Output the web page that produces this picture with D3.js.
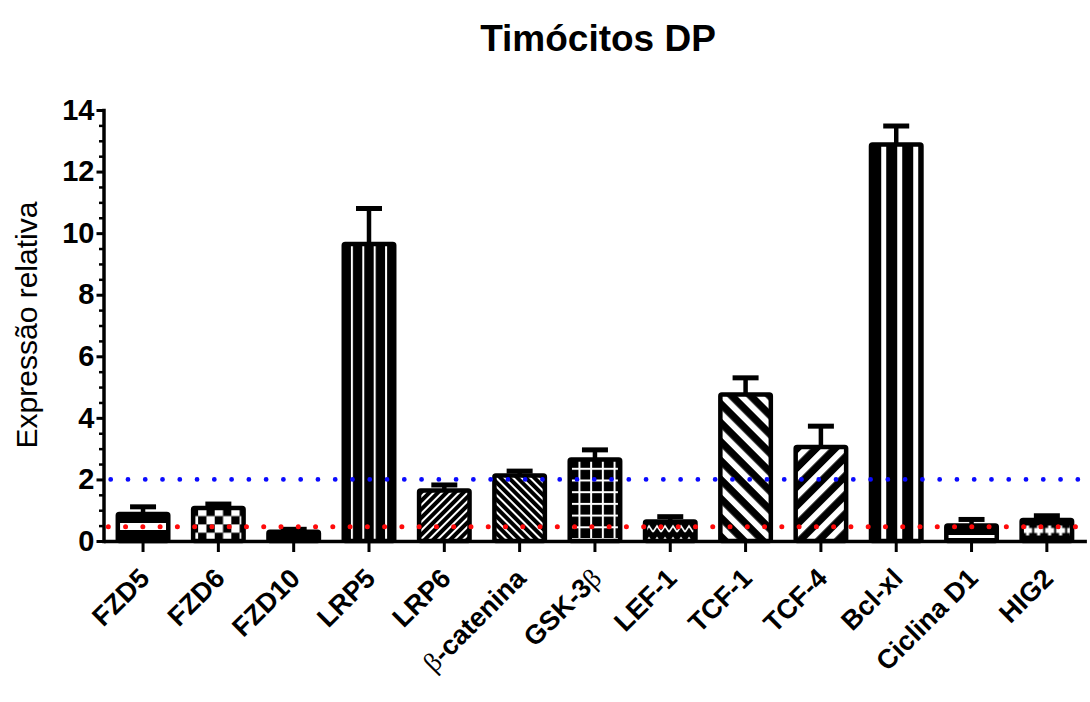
<!DOCTYPE html>
<html><head><meta charset="utf-8">
<script src="https://cdn.jsdelivr.net/npm/d3@7"></script>
<style>body{margin:0;background:#fff}svg{display:block}</style>
</head><body>
<svg id="chart" width="1090" height="702"></svg>
<script>
// ---- data ----
const categories = ["FZD5","FZD6","FZD10","LRP5","LRP6","β-catenina","GSK-3β","LEF-1","TCF-1","TCF-4","Bcl-xl","Ciclina D1","HIG2"];
const means  = [0.88,1.07,0.30,9.65,1.64,2.13,2.65,0.63,4.76,3.05,12.88,0.50,0.68];
const errors = [0.23,0.13,0.08,1.15,0.18,0.14,0.31,0.16,0.54,0.68,0.60,0.20,0.14];
const yTicks = [0,2,4,6,8,10,12,14];
const upperThreshold = 2;
const lowerThreshold = 0.46;
const title = "Timócitos DP";
const yLabel = "Expressão relativa";

// ---- layout ----
const svg = d3.select("#chart");
const x = d3.scaleBand().domain(categories).range([103.5, 1086.4]).paddingInner(0.33).paddingOuter(0.19);
const y = d3.scaleLinear().domain([0, 14]).range([541, 110]);
const bw = x.bandwidth();
const y0 = y(0);
const defs = svg.append("defs");

function pat(id, w, h, px, py, transform) {
  const p = defs.append("pattern").attr("id", id).attr("patternUnits", "userSpaceOnUse")
    .attr("width", w).attr("height", h).attr("x", px).attr("y", py);
  if (transform) p.attr("patternTransform", transform);
  p.append("rect").attr("width", w).attr("height", h).attr("fill", "#000");
  return p;
}
const cx = c => x(c) + bw / 2;

// per-category fill patterns
const fills = {};
categories.forEach((c, i) => {
  const id = "p" + i;
  let p;
  switch (c) {
    case "FZD5":
      p = pat(id, 10, 18, 0, y0 - 18);
      p.append("rect").attr("x", 0).attr("y", 0).attr("width", 10).attr("height", 7).attr("fill", "#fff");
      break;
    case "FZD6":
      p = pat(id, 16.6, 16.6, x(c) + 5, y0 - 16.6 * 2);
      p.append("rect").attr("width", 8.3).attr("height", 8.3).attr("fill", "#fff");
      p.append("rect").attr("x", 8.3).attr("y", 8.3).attr("width", 8.3).attr("height", 8.3).attr("fill", "#fff");
      break;
    case "LRP5":
      p = pat(id, 11.4, 10, cx(c) - 6.7, 0);
      p.append("rect").attr("width", 2).attr("height", 10).attr("fill", "#fff");
      break;
    case "LRP6":
      p = pat(id, 6, 6, 0, 0, "rotate(45)");
      p.append("rect").attr("width", 2).attr("height", 6).attr("fill", "#fff");
      break;
    case "β-catenina":
      p = pat(id, 6, 6, 0, 0, "rotate(-45)");
      p.append("rect").attr("width", 2).attr("height", 6).attr("fill", "#fff");
      break;
    case "GSK-3β":
      p = pat(id, 11.7, 11.7, cx(c) - 16.5, y0 - 14.7);
      p.append("rect").attr("width", 2).attr("height", 11.7).attr("fill", "#fff");
      p.append("rect").attr("width", 11.7).attr("height", 2).attr("fill", "#fff");
      break;
    case "LEF-1":
      p = pat(id, 8, 12, x(c), y0 - 18);
      p.append("path").attr("d", "M0,9 L4,3 L8,9").attr("fill", "none").attr("stroke", "#fff").attr("stroke-width", 1.6);
      break;
    case "TCF-1":
      p = pat(id, 13.4, 10, 0, 0, "rotate(-45)");
      p.append("rect").attr("width", 6).attr("height", 10).attr("fill", "#fff");
      break;
    case "TCF-4":
      p = pat(id, 13.4, 10, 0, 0, "rotate(45)");
      p.append("rect").attr("width", 6).attr("height", 10).attr("fill", "#fff");
      break;
    case "Bcl-xl":
      p = pat(id, 16, 10, cx(c) - 15, 0);
      p.append("rect").attr("width", 5).attr("height", 10).attr("fill", "#fff");
      break;
    case "Ciclina D1":
      p = pat(id, 10, 16, 0, y0 - 6);
      p.append("rect").attr("width", 10).attr("height", 3).attr("fill", "#fff");
      break;
    case "HIG2":
      p = pat(id, 11, 16, x(c) + 1, y0 - 18.5);
      p.append("rect").attr("x", 0.5).attr("y", 5.5).attr("width", 9).attr("height", 5).attr("fill", "#fff");
      p.append("rect").attr("x", 3.5).attr("y", 3).attr("width", 3).attr("height", 10).attr("fill", "#fff");
      break;
    default:
      p = pat(id, 10, 10, 0, 0);
  }
  fills[c] = "url(#" + id + ")";
});

// ---- bars ----
const data = categories.map((c, i) => ({ c, v: means[i], e: errors[i] }));

const eb = svg.append("g").attr("stroke", "#000");
eb.selectAll("line.stem").data(data).join("line").attr("class", "stem")
  .attr("x1", d => cx(d.c)).attr("x2", d => cx(d.c))
  .attr("y1", d => y(d.v)).attr("y2", d => y(d.v + d.e)).attr("stroke-width", 4.5);
eb.selectAll("line.cap").data(data).join("line").attr("class", "cap")
  .attr("x1", d => cx(d.c) - 13).attr("x2", d => cx(d.c) + 13)
  .attr("y1", d => y(d.v + d.e)).attr("y2", d => y(d.v + d.e)).attr("stroke-width", 5);

svg.append("g").selectAll("rect").data(data).join("rect")
  .attr("x", d => x(d.c)).attr("width", bw)
  .attr("y", d => y(d.v)).attr("height", d => y0 - y(d.v))
  .attr("rx", 1.5)
  .attr("fill", d => fills[d.c])
  .attr("stroke", "#000").attr("stroke-width", 4.5).attr("stroke-linejoin", "round");

// ---- axes ----
const font = "'Liberation Sans', Arial, Helvetica, sans-serif";
const yAxis = svg.append("g").attr("transform", "translate(103.5,0)")
  .call(d3.axisLeft(y).tickValues(yTicks).tickFormat(d3.format("d")).tickSize(7).tickPadding(2).tickSizeOuter(0));
yAxis.select(".domain").attr("stroke-width", 3.5).attr("stroke-linecap", "square");
yAxis.selectAll(".tick line").attr("stroke-width", 3);
yAxis.selectAll(".tick text").attr("font-family", font).attr("font-weight", "bold").attr("font-size", 29).attr("fill", "#000");

const minor = d3.range(0, 14.01, 0.5).filter(v => v % 2 !== 0);
const yMinor = svg.append("g").attr("transform", "translate(103.5,0)")
  .call(d3.axisLeft(y).tickValues(minor).tickFormat("").tickSize(4.5).tickSizeOuter(0));
yMinor.select(".domain").remove();
yMinor.selectAll(".tick line").attr("stroke-width", 2.5);

const xAxis = svg.append("g").attr("transform", `translate(0,${y0})`)
  .call(d3.axisBottom(x).tickSize(11).tickSizeOuter(0).tickFormat(""));
xAxis.select(".domain").attr("stroke-width", 3.5);
xAxis.selectAll(".tick line").attr("stroke-width", 3);
xAxis.selectAll(".tick text").remove();
xAxis.selectAll(".tick").append("text")
  .attr("transform", "translate(8,39) rotate(-45)")
  .attr("text-anchor", "end")
  .attr("font-family", font).attr("font-weight", "bold").attr("font-size", 27).attr("fill", "#000")
  .each(function (c) {
    const t = d3.select(this);
    const parts = c.split("β");
    parts.forEach((s, k) => {
      if (k > 0) t.append("tspan").text("β").attr("font-family", "'Liberation Serif', 'DejaVu Serif', serif").attr("font-weight", "normal");
      if (s) t.append("tspan").text(s);
    });
  });

// ---- threshold dotted lines ----
svg.append("line").attr("x1", 110.7).attr("x2", 1088).attr("y1", y(upperThreshold)).attr("y2", y(upperThreshold))
  .attr("stroke", "#0a0aff").attr("stroke-width", 4.8).attr("stroke-linecap", "round").attr("stroke-dasharray", "0 17.27");
svg.append("line").attr("x1", 108.3).attr("x2", 1088).attr("y1", y(lowerThreshold)).attr("y2", y(lowerThreshold))
  .attr("stroke", "#ff0a0a").attr("stroke-width", 5).attr("stroke-linecap", "round").attr("stroke-dasharray", "0 17.27");

// ---- titles ----
svg.append("text").attr("x", 598).attr("y", 51).attr("text-anchor", "middle")
  .attr("font-family", font).attr("font-weight", "bold").attr("font-size", 37).text(title);
svg.append("text").attr("transform", "translate(37,325) rotate(-90)").attr("text-anchor", "middle")
  .attr("font-family", font).attr("font-size", 30).text(yLabel);
</script>
</body></html>
